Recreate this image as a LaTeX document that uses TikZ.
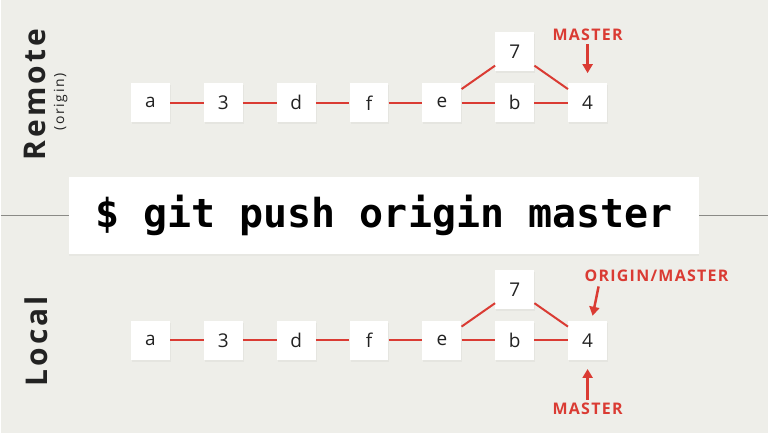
\documentclass[tikz,border=0pt]{standalone}
\usepackage{fontspec}
\setmainfont{Open Sans}
\setmonofont{DejaVu Sans Mono}
\newfontfamily\tagfont[LetterSpace=8]{Open Sans}
\newfontfamily\sidefont[LetterSpace=10]{Open Sans}
\newfontfamily\subfont[LetterSpace=12]{Open Sans}
\usetikzlibrary{positioning, shadows, arrows.meta}
\definecolor{bg}{HTML}{EEEEE9}
\definecolor{gitred}{HTML}{DA3B33}
\definecolor{ink}{HTML}{222222}
\definecolor{rule}{HTML}{8A8A86}

\begin{document}
\begin{tikzpicture}[x=1pt, y=-1pt, >={Triangle[width=10pt,length=9pt]}, node distance=73pt, on grid,
	commit/.style={fill=white, minimum size=39pt, inner sep=0pt, text=ink, font=\fontsize{19}{19}\selectfont,
		drop shadow={opacity=0.08, shadow xshift=1pt, shadow yshift=-2pt}},
	link/.style={draw=gitred, line width=2pt},
	branch/.style={text=gitred, font=\tagfont\bfseries\fontsize{16}{16}\selectfont},
	pointer/.style={->, draw=gitred, line width=2.5pt},
	side/.style={rotate=90, text=ink, font=\sidefont\bfseries\fontsize{30}{30}\selectfont}]
	\fill[bg] (0,0) rectangle (769,434);
	
	%Remote:
	\node[side] (remote) at (34,95) {Remote};
	\node[rotate=90, text=ink, font=\subfont\fontsize{14}{14}\selectfont] (origin) at (60,102) {(origin)};
	\node[commit]							(ra)               	at (150,103) {a};
	\node[commit]							(r3) [right of=ra] 	{3};
	\node[commit]							(rd) [right of=r3] 	{d};
	\node[commit]							(rf) [right of=rd] 	{f};
	\node[commit]							(re) [right of=rf] 	{e};
	\node[commit]							(rb) [right of=re] 	{b};
	\node[commit]							(r4) [right of=rb] 	{4};
	\node[commit]							(r7) [above=51pt of rb] {7};
	\node[branch]							(rmaster) [above=68pt of r4] {MASTER};
	
	%Local:
	\node[side] (local) at (36,342) {Local};
	\node[commit]							(la)               	at (150,341) {a};
	\node[commit]							(l3) [right of=la] 	{3};
	\node[commit]							(ld) [right of=l3] 	{d};
	\node[commit]							(lf) [right of=ld] 	{f};
	\node[commit]							(le) [right of=lf] 	{e};
	\node[commit]							(lb) [right of=le] 	{b};
	\node[commit]							(l4) [right of=lb] 	{4};
	\node[commit]							(l7) [above=51pt of lb] {7};
	\node[branch]							(lorigin) at (657,276) {ORIGIN/MASTER};
	\node[branch]							(lmaster) [below=69pt of l4] {MASTER};
	\coordinate (otail) at (599,287);
	
	%Commande:
	\draw[rule, line width=1.5pt] (0,216) -- (769,216);
	\node[fill=white, minimum width=632pt, minimum height=77pt, drop shadow={opacity=0.06, shadow xshift=0pt, shadow yshift=-2pt},
		font=\ttfamily\bfseries\fontsize{40}{40}\selectfont] (cmd) at (384,216) {\$ git push origin master};
	
	%Liens:
	\path[link] (ra) edge (r3) (r3) edge (rd) (rd) edge (rf) (rf) edge (re)
		(re) edge (rb) (rb) edge (r4) (re) edge (r7) (r7) edge (r4);
	\path[link] (la) edge (l3) (l3) edge (ld) (ld) edge (lf) (lf) edge (le)
		(le) edge (lb) (lb) edge (l4) (le) edge (l7) (l7) edge (l4);
	\draw[pointer, shorten >=10pt] (rmaster) -- (r4);
	\draw[pointer, shorten >=5pt] (otail) -- (l4);
	\draw[pointer, shorten >=9pt] (lmaster) -- (l4);
\end{tikzpicture}
\end{document}
